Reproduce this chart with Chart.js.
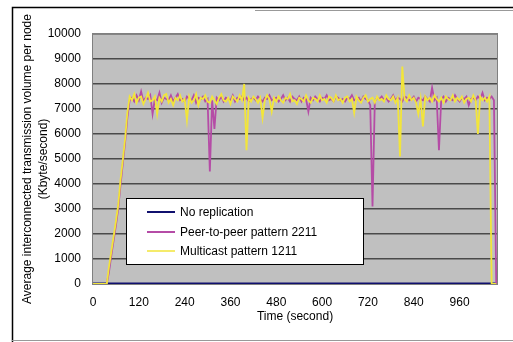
<!DOCTYPE html>
<html>
<head>
<meta charset="utf-8">
<script src="https://cdn.jsdelivr.net/npm/chart.js@4/dist/chart.umd.min.js"></script>
<style>
  html, body { margin: 0; padding: 0; background: #fff; overflow: hidden; }
  #wrap { position: relative; width: 513px; height: 342px; }
  #chart { display: block; }
</style>
</head>
<body>
<div id="wrap"><canvas id="chart" width="513" height="342"></canvas></div>
<script>
const STEP = 6;
const Y_TICKS_MAX = 10000;
const X_LABELS = [0, 120, 240, 360, 480, 600, 720, 840, 960];

const SERIES_NAMES = ['No replication', 'Peer-to-peer pattern 2211', 'Multicast pattern 1211'];

const NO_REP_TIME = [0, 1056];
const NO_REP = [0, 0];

const P2P = [
  0, 0, 0, 0, 0, 0, 0, 500, 1150, 1750,
  2350, 3000, 3950, 4800, 5650, 6650, 7350, 7450, 7300, 7550,
  7350, 7700, 7300, 7450, 7400, 7550, 6800, 7400, 7350, 7650,
  7250, 7450, 7400, 7350, 7550, 7300, 7450, 7600, 7350, 7400,
  7300, 7500, 7400, 7350, 7550, 7250, 7450, 7400, 7500, 7300,
  7400, 4500, 7350, 6200, 7450, 7350, 7500, 7300, 7450, 7400,
  7350, 7550, 7300, 7450, 7400, 7500, 7350, 7450, 7300, 7400,
  7450, 7350, 7500, 7400, 7300, 7450, 7400, 7550, 7350, 7400,
  7450, 7300, 7400, 7550, 7350, 7450, 7300, 7500, 7400, 7350,
  7500, 7300, 7450, 7400, 6900, 7450, 7350, 7500, 7400, 7300,
  7450, 7400, 7550, 7350, 7400, 7300, 7500, 7450, 7350, 7400,
  7300, 7450, 7400, 7550, 7350, 7400, 7450, 7300, 7500, 7400,
  7350, 7150, 3100, 7300, 7450, 7400, 7500, 7350, 7450, 7300,
  7400, 7550, 7350, 7450, 7400, 7300, 7500, 7450, 7350, 7400,
  7500, 7300, 7450, 7400, 7350, 7500, 7400, 7300, 7850, 7350,
  7450, 5350, 7400, 7500, 7300, 7450, 7400, 7350, 7550, 7400,
  7300, 7450, 7400, 7500, 7150, 7400, 7450, 7350, 7500, 7400,
  7650, 7350, 7450, 7400, 7500, 7350, 0
];

const MULTICAST = [
  0, 0, 0, 0, 0, 0, 0, 700, 1300, 1900,
  2500, 3150, 4150, 4950, 5800, 6850, 7500, 7350, 7600, 7250,
  7450, 7500, 7200, 7400, 7650, 7300, 7350, 7500, 6800, 7450,
  7300, 7550, 7600, 7250, 7400, 7150, 7450, 7350, 7550, 7300,
  7400, 6550, 7500, 7250, 7350, 7600, 7150, 7450, 7400, 7550,
  7300, 7250, 7500, 7350, 7200, 7450, 7600, 7350, 7300, 7450,
  7200, 7500, 7400, 7300, 7550, 7350, 8000, 5350, 7450, 7300,
  7500, 7400, 7250, 7450, 6650, 7350, 7550, 7400, 6900, 7450,
  7300, 7500, 7350, 7250, 7450, 7400, 7600, 7300, 7350, 7200,
  7450, 7400, 7300, 7550, 7350, 7250, 7450, 7400, 7300, 7550,
  7350, 7400, 7250, 7500, 7450, 7300, 7550, 7350, 7400, 7250,
  7450, 7500, 7300, 7400, 6850, 7500, 7350, 7250, 7450, 7550,
  7300, 7400, 7450, 7250, 7500, 7350, 7400, 7300, 7550, 7400,
  7350, 7500, 7250, 7450, 5100, 8700, 7400, 7300, 7550, 7350,
  7450, 7250, 6800, 7400, 6300, 7500, 7350, 7450, 7300, 7550,
  7400, 7300, 7450, 7250, 7500, 7400, 7350, 7550, 7300, 7450,
  7350, 7500, 7250, 7400, 7450, 7300, 7550, 7350, 6000, 7500,
  7350, 7450, 7300, 7500, 0, 0, 0
];

const COLORS = ['#10106e', '#b54ca6', '#f2e53a'];
const FONT = { family: '"Liberation Sans", Arial, sans-serif', size: 12 };

function toPoints(times, values) {
  return values.map((v, i) => ({ x: times[i], y: v }));
}

const stepTimes = MULTICAST.map((_, i) => i * STEP);

// gray plot area + outer frame like the printed figure
const framePlugin = {
  id: 'frame',
  beforeDraw(chart) {
    const { ctx, chartArea: a } = chart;
    ctx.save();
    ctx.fillStyle = '#fff';
    ctx.fillRect(0, 0, chart.width, chart.height);
    ctx.fillStyle = '#c0c0c0';
    ctx.fillRect(a.left, a.top, a.right - a.left, a.bottom - a.top);
    ctx.restore();
  },
  afterDatasetsDraw(chart) {
    const { ctx, chartArea: a } = chart;
    ctx.save();
    ctx.strokeStyle = '#808080';
    ctx.lineWidth = 1;
    ctx.strokeRect(a.left - 0.5, a.top - 0.5, a.right - a.left + 1, a.bottom - a.top + 1);
    ctx.restore();
  },
  afterDraw(chart) {
    const { ctx } = chart;
    ctx.save();
    // keep the right margin clean
    ctx.fillStyle = '#fff';
    ctx.fillRect(499, 12, 14, 326);
    ctx.strokeStyle = '#000';
    ctx.lineWidth = 1.5;
    ctx.beginPath();
    ctx.moveTo(12.5, 342);
    ctx.lineTo(12.5, 7.5);
    ctx.lineTo(513, 7.5);
    ctx.stroke();
    ctx.strokeStyle = '#999';
    ctx.lineWidth = 1;
    ctx.beginPath();
    ctx.moveTo(255, 10.5);
    ctx.lineTo(513, 10.5);
    ctx.moveTo(12, 340.5);
    ctx.lineTo(513, 340.5);
    ctx.stroke();
    ctx.restore();
  }
};

// legend box inside the plot area
const boxLegend = {
  id: 'boxLegend',
  afterDraw(chart) {
    const { ctx } = chart;
    const x = 126, y = 198, w = 237, h = 66;
    ctx.save();
    ctx.fillStyle = '#fff';
    ctx.fillRect(x, y, w, h);
    ctx.strokeStyle = '#000';
    ctx.lineWidth = 1;
    ctx.strokeRect(x + 0.5, y + 0.5, w, h);
    ctx.font = FONT.size + 'px ' + FONT.family;
    ctx.textBaseline = 'middle';
    const rows = [212, 232, 251];
    chart.data.datasets.forEach((ds, i) => {
      ctx.strokeStyle = ds.borderColor;
      ctx.lineWidth = i === 2 ? 1.5 : 2;
      ctx.beginPath();
      ctx.moveTo(147, rows[i]);
      ctx.lineTo(175, rows[i]);
      ctx.stroke();
      ctx.fillStyle = '#000';
      ctx.fillText(ds.label, 180, rows[i] + 0.5);
    });
    ctx.restore();
  }
};

new Chart(document.getElementById('chart'), {
  type: 'line',
  data: {
    datasets: [
      {
        label: SERIES_NAMES[0],
        data: toPoints(NO_REP_TIME, NO_REP),
        borderColor: COLORS[0],
        borderWidth: 3,
        order: 2
      },
      {
        label: SERIES_NAMES[1],
        data: toPoints(stepTimes, P2P),
        borderColor: COLORS[1],
        borderWidth: 1.8,
        order: 1
      },
      {
        label: SERIES_NAMES[2],
        data: toPoints(stepTimes, MULTICAST),
        borderColor: COLORS[2],
        borderWidth: 1.8,
        order: 0
      }
    ]
  },
  options: {
    responsive: false,
    animation: false,
    elements: { point: { radius: 0 }, line: { tension: 0 } },
    layout: { padding: { left: 0, top: 34, right: 16, bottom: 0 } },
    plugins: {
      legend: { display: false },
      tooltip: { enabled: false }
    },
    scales: {
      x: {
        type: 'linear',
        min: 0,
        max: 1058,
        afterBuildTicks: (s) => { s.ticks = X_LABELS.map(v => ({ value: v })); },
        afterFit: (s) => { s.height = 58; },
        grid: { display: false, drawTicks: false },
        border: { display: false },
        ticks: {
          color: '#000', font: FONT, padding: 11,
          maxRotation: 0, autoSkip: false, callback: (v) => String(v)
        },
        title: { display: true, text: 'Time (second)', color: '#000', font: FONT, padding: { top: 0, bottom: 18 } }
      },
      y: {
        min: 0,
        max: Y_TICKS_MAX,
        afterFit: (s) => { s.width = 93; },
        grid: { color: '#4a4a4a', lineWidth: 1.5, drawTicks: false },
        border: { display: false },
        ticks: { stepSize: 1000, color: '#000', font: FONT, padding: 12, callback: (v) => String(v) },
        title: {
          display: true,
          text: ['Average interconnected transmission volume per node', '(Kbyte/second)'],
          color: '#000',
          font: { family: FONT.family, size: 12, lineHeight: 1.3333 },
          padding: { top: 20, bottom: 0 }
        }
      }
    }
  },
  plugins: [framePlugin, boxLegend]
});
</script>
</body>
</html>
